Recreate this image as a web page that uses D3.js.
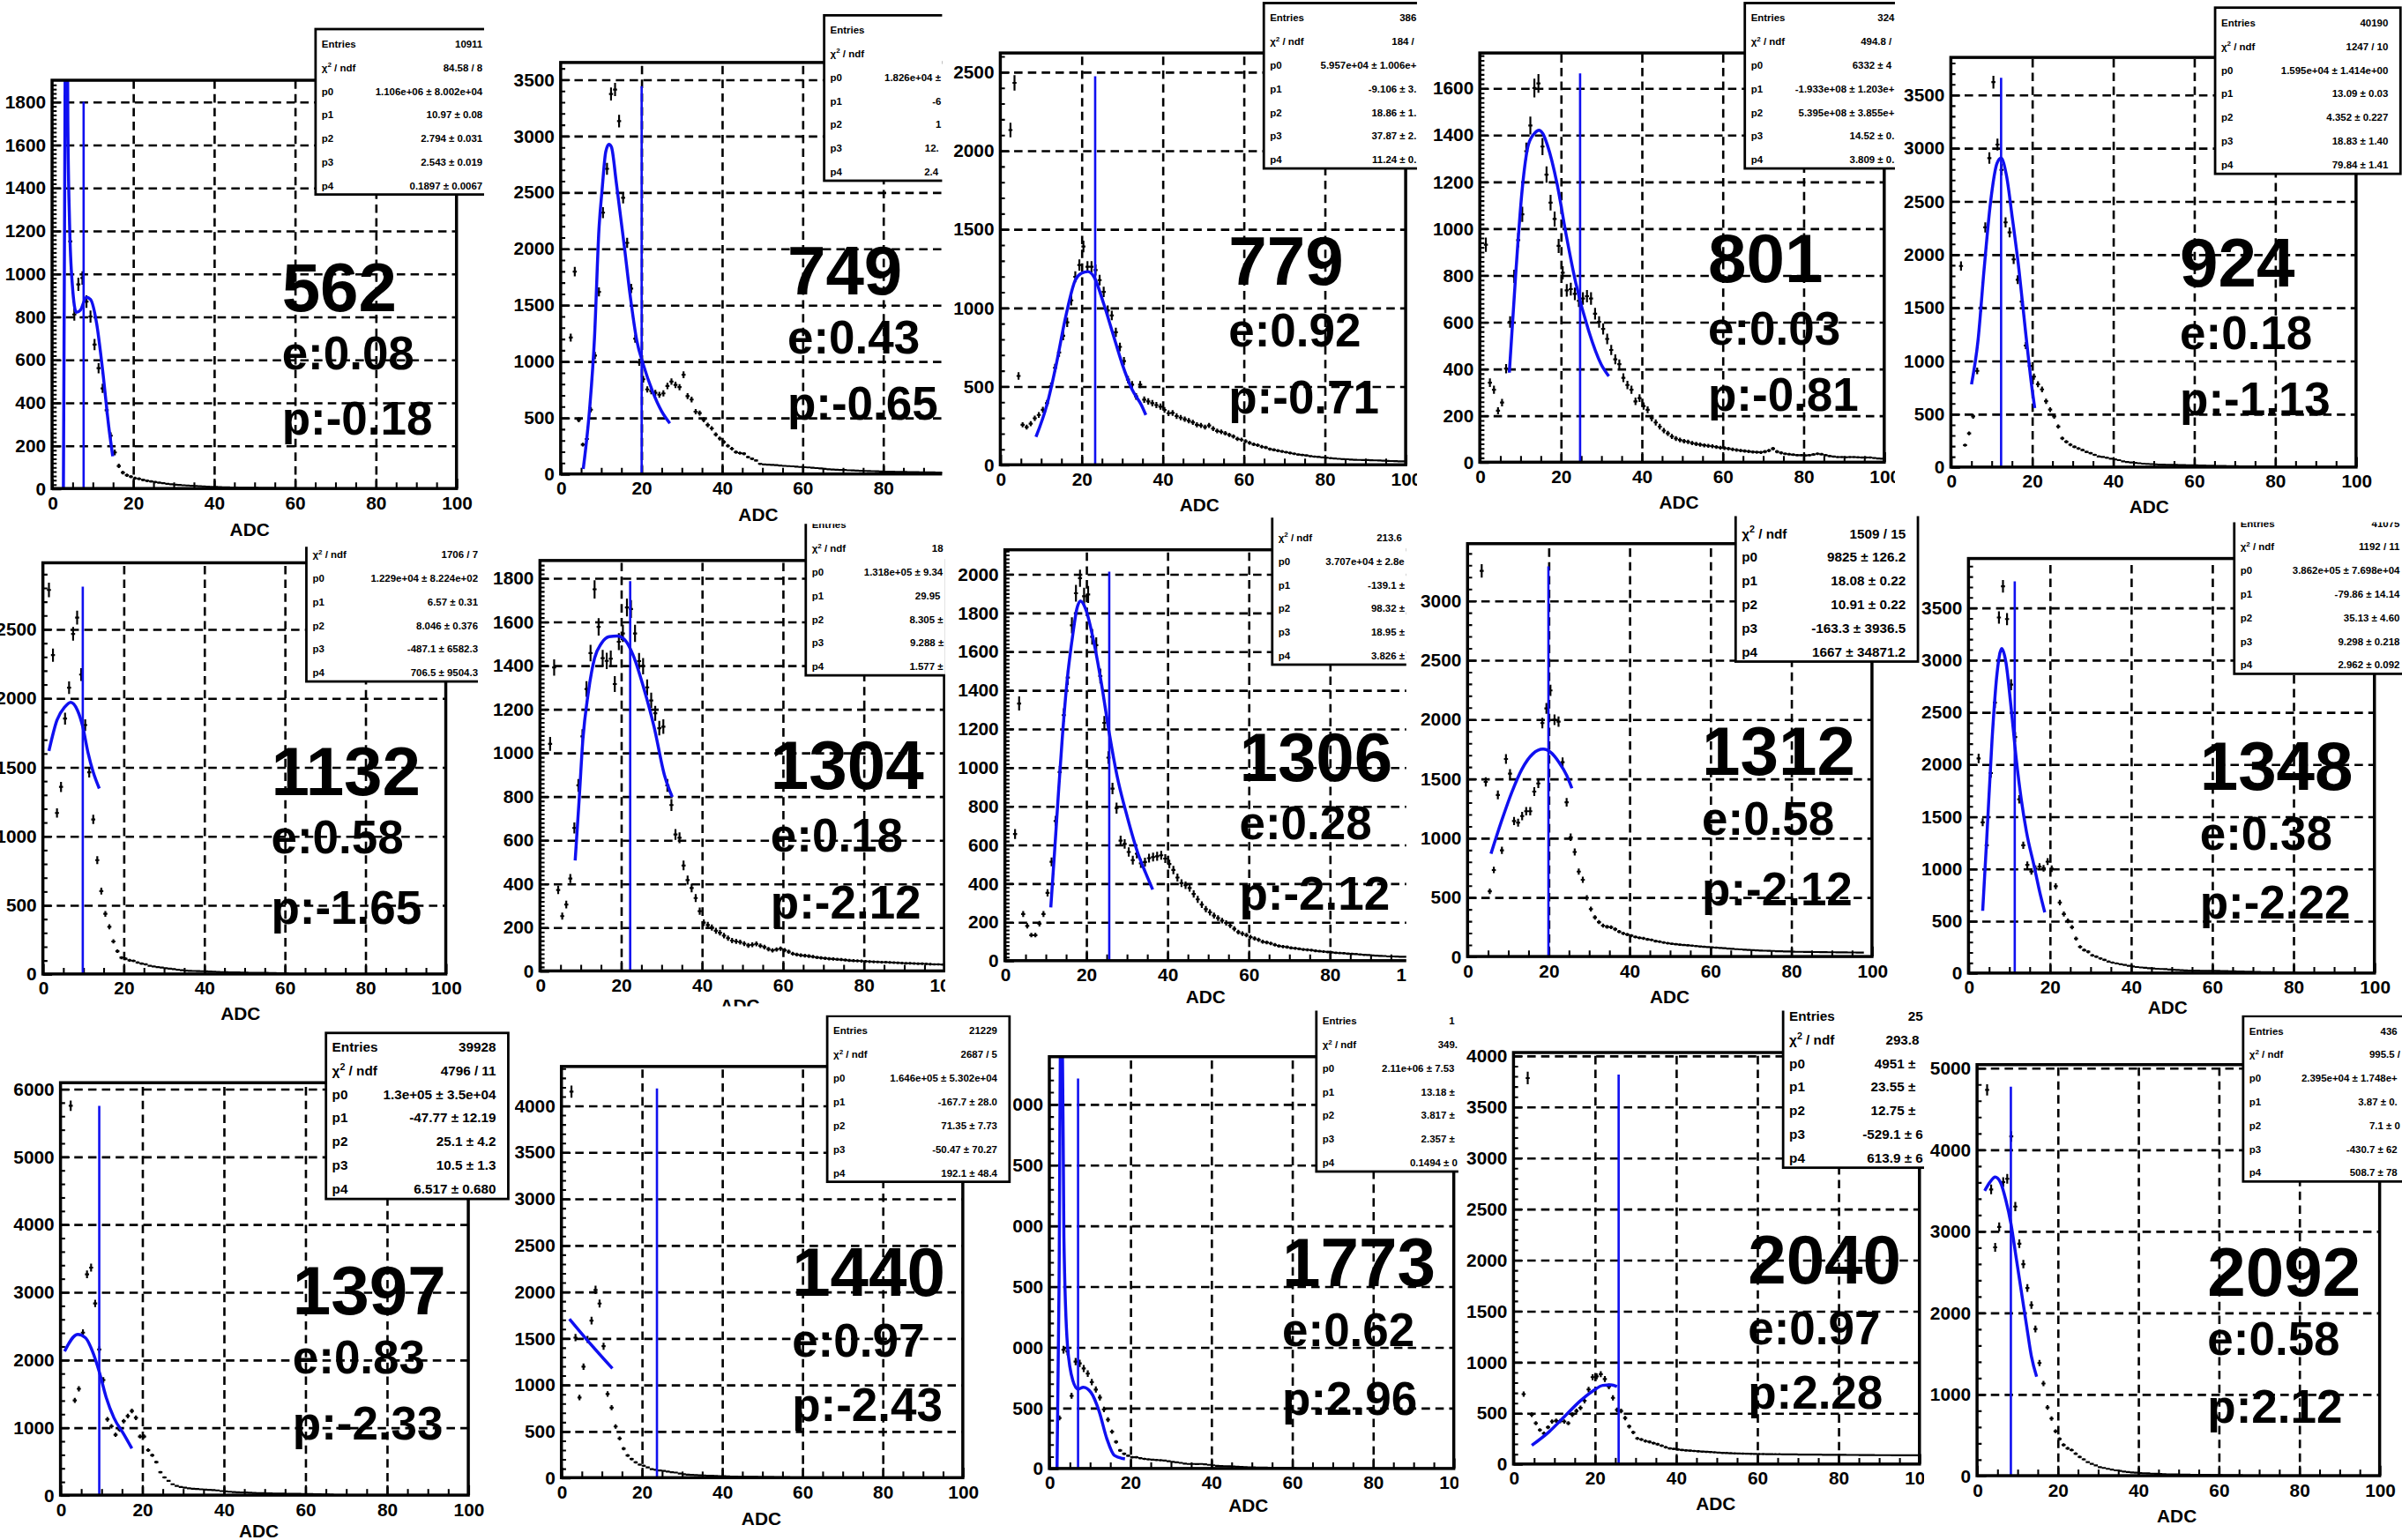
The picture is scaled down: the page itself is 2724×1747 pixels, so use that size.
<!DOCTYPE html>
<html>
<head>
<meta charset="utf-8">
<script src="https://cdn.jsdelivr.net/npm/d3@7"></script>
<style>
  html, body { margin: 0; padding: 0; background: #fff; }
  svg { display: block; }
  text { font-family: "Liberation Sans", Arial, Helvetica, sans-serif; font-weight: bold; }
</style>
</head>
<body>
<div id="chart"></div>
<script>
// channel labels and fit summary numbers
const channels = [562, 749, 779, 801, 924, 1132, 1304, 1306, 1312, 1348, 1397, 1440, 1773, 2040, 2092];
const eValues = ["0.08", "0.43", "0.92", "0.03", "0.18", "0.58", "0.18", "0.28", "0.58", "0.38", "0.83", "0.97", "0.62", "0.97", "0.58"];
const pValues = ["-0.18", "-0.65", "-0.71", "-0.81", "-1.13", "-1.65", "-2.12", "-2.12", "-2.12", "-2.22", "-2.33", "-2.43", "2.96", "2.28", "2.12"];

// y range and major step of each histogram
const yMax = [1900, 3650, 2620, 1750, 3850, 2980, 1880, 2125, 3480, 3970, 6090, 4420, 3390, 4030, 5040];
const yStep = [200, 500, 500, 200, 500, 500, 200, 200, 500, 500, 1000, 500, 500, 500, 1000];
const xTicks = [0, 20, 40, 60, 80, 100];
const xTitle = "ADC";

// bin contents, 1 ADC per bin starting at 0 (null = empty bin)
const counts562 = [null,null,null,1780,1150,810,950,980,870,800,670,560,466,364,246,168,105,74,62,55,48,45,40,36,33,30,27,25,22,20,18,17,15,14,13,12,11,10,9,8,8,7,6,6,5,5,4,4,3,3,3,2,2,2,2,1,1,1,1,1];
const counts749 = [null,null,1210,1795,480,260,310,570,1050,1615,2318,2707,3370,3410,3130,2450,2050,1645,1200,990,840,750,735,720,703,715,780,820,790,770,880,690,660,553,540,480,434,404,350,314,284,250,224,194,185,180,150,135,120,90,85,82,80,78,75,72,70,68,65,62,60,58,55,52,50,45,42,40,38,36,35,33,32,30,28,27,26,25,24,22,21,20,20,19,18,18,17,16,16,15,15,14,14,13,13,12,12,11,11,10];
const counts779 = [null,null,2130,2430,565,255,240,262,296,317,350,392,500,617,714,821,907,1046,1196,1271,1389,1260,1260,1239,1175,1100,982,950,843,750,660,542,510,435,510,414,403,392,380,370,349,328,330,310,300,290,280,270,255,250,240,250,230,215,210,200,190,180,165,160,150,140,130,125,115,110,100,95,90,85,80,75,70,65,62,60,55,52,50,47,45,42,40,38,36,35,33,32,31,30,30,29,28,27,26,25,24,23,22,22];
const counts801 = [null,930,340,310,220,255,400,600,795,950,1060,1330,1440,1600,1620,1350,1230,1110,1040,925,810,735,740,720,690,700,710,700,635,600,570,527,480,440,419,361,330,310,260,274,240,224,188,170,152,135,123,110,101,95,90,87,82,78,75,72,70,68,65,62,60,58,55,52,50,48,46,44,43,42,45,50,58,45,40,36,34,32,30,30,29,30,33,36,34,30,26,24,22,22,21,22,22,21,20,20,20,18,16,15];
const counts924 = [null,null,1890,206,317,476,904,1500,2253,2904,3618,3031,2793,2300,2206,1952,1761,1555,1142,950,850,778,730,619,540,476,381,270,238,210,190,175,160,143,130,115,100,95,88,79,72,65,54,48,44,40,36,32,30,28,26,24,23,22,21,20,19,18,17,16,16,15,14,13,12,11,10,10,9,8,8,7,7,6,6,5,5,4,4,3];
const counts1132 = [null,2783,2311,1167,1356,1851,2075,2465,2583,2170,1804,1462,1120,825,601,436,342,236,165,118,110,99,95,83,75,70,59,55,50,47,42,38,35,30,27,24,23,22,21,20,19,18,17,15,14,13,12,12,11,10,10,9,9,9,8,8,7,7,6,6,5];
const counts1304 = [null,null,1040,1390,371,251,304,423,655,850,1074,1291,1456,1748,1576,1433,1420,1430,1314,1508,1546,1665,1658,1546,1419,1396,1299,1239,1180,1112,1119,850,760,625,610,483,416,380,334,274,221,210,199,184,175,162,150,139,135,132,125,117,120,124,115,109,100,94,98,102,95,88,79,75,72,70,68,65,62,60,58,56,55,53,52,50,48,47,46,45,44,43,42,41,40,40,39,38,37,36,35,35,34,33,33,32,31,30,30,29];
const counts1306 = [null,null,655,1330,241,180,132,132,191,241,351,511,722,975,1270,1464,1734,1900,1978,1885,1894,1675,1632,1472,1230,1050,890,789,621,604,562,520,553,503,510,530,536,540,545,528,500,469,430,401,390,376,345,317,290,266,250,233,220,207,195,182,165,148,140,132,122,115,108,98,94,89,82,76,73,70,66,64,61,58,56,54,51,49,47,45,43,41,39,38,36,35,34,32,30,29,27,26,25,24,22,22,21,20,20,19];
const counts1312 = [null,null,null,3250,1472,550,729,1362,895,1665,1541,1142,1128,1184,1225,1225,1390,1459,1968,2092,2243,1996,1980,1638,1300,1005,881,716,647,495,400,330,290,261,250,247,230,210,195,185,176,165,158,153,145,140,130,125,118,112,108,104,100,97,95,92,88,85,82,80,77,75,72,70,67,65,62,60,58,56,54,52,50,49,48,47,45,44,43,42,41,40,40,39,39,38,38,37,37,36,36,35,35,35,34,34,33,33];
const counts1348 = [null,null,2056,1444,1224,1915,2589,3405,3704,3390,2762,2260,1664,1224,1036,973,1000,1020,1004,1067,1000,832,675,565,500,439,330,251,220,204,170,157,140,126,110,100,92,85,78,70,63,58,54,50,47,44,41,39,38,34,31,29,27,25,24,23,23,22,22,22,22,21,20,19,18,17,16,15,13,12,11,10,9,9,8,8,7,7,6,6,5];
const counts1397 = [null,null,5750,1400,1570,2400,3260,3360,2830,2150,1700,1120,1017,891,966,1092,1168,1243,1142,866,866,664,589,488,337,262,211,161,136,120,111,100,95,90,86,82,78,75,70,60,55,50,45,42,40,38,35,33,30,28,26,25,24,23,22,21,20,20,19,18,17,15,14,12,10,9,8];
const counts1440 = [null,null,4150,1505,862,1193,1486,1688,2018,1872,1413,899,752,550,422,312,238,200,165,140,128,110,92,85,78,73,65,58,55,45,37,33,30,27,26,24,22,20,18,16,15,14,12,11,10,9,9,8,8,7,7,6,6,5,5,4,4,3,3,3,2,2];
const counts1773 = [null,null,416,978,963,598,880,865,823,781,711,650,584,486,402,303,219,149,121,105,93,93,85,79,75,72,70,68,65,60,55,51,46,40,37,37,36,37,34,30,26,22,20,19,18,17,15,13,12,10,9,8,7,7,6,6,5,5,4,4,3];
const counts2040 = [null,null,685,3780,483,400,333,300,360,417,425,420,417,400,483,520,550,620,730,851,858,880,833,760,648,531,520,450,368,310,251,240,225,217,205,194,180,165,153,148,142,138,134,131,128,125,122,120,118,115,112,109,108,106,104,103,102,101,100,99,98,98,97,97,96,96,95,95,94,94,93,93,93,92,92,92,91,91,91,90,90,90,89,89,89,88,88,88,88,87,87,87,87,86,86,86,86,86,86,86];
const counts2092 = [null,null,4730,3510,2800,3050,3600,3640,4160,3300,2845,2594,2301,2092,1799,1381,1130,837,700,544,450,377,335,314,270,230,200,167,145,126,105,95,84,75,65,58,50,45,40,36,33,30,28,25,23,21,19,17,16,15,14,13,12,11,10,10,9,9,8,8,7,6,6,5,5,4];

// fit curves: [ADC, counts]
const fit562 = [[2.8,0],[3.1,1300],[3.4,2600],[3.6,2700],[3.9,1700],[4.3,1250],[5,950],[6,820],[7,830],[8.5,890],[9.5,880],[11,770],[12.5,550],[14,290],[15,150]];
const fit749 = [[5.6,45],[7.2,583],[8.4,1211],[9.5,2168],[10.3,2528],[11.2,2860],[12,2923],[12.6,2900],[13.8,2588],[15.8,2019],[17.3,1570],[18.9,1182],[20.5,972],[22.8,733],[25.1,553],[27.1,449]];
const fit779 = [[8.8,178],[11.5,382],[13.8,639],[16.1,939],[18.5,1175],[20,1218],[21.6,1229],[23.1,1196],[25.5,1025],[27.8,832],[30.1,639],[32.5,480],[34.8,380],[35.9,317]];
const fit801 = [[7.3,383],[8.9,809],[10.5,1170],[12,1357],[13.6,1408],[14.6,1420],[15.6,1405],[16.7,1357],[19.1,1191],[21.4,968],[23.75,765],[26.9,563],[30,419],[31.9,368]];
const fit924 = [[5.1,778],[6.7,1190],[8.2,1857],[9.8,2491],[11.4,2856],[12.4,2904],[13.7,2745],[15.2,2333],[16.8,1857],[18.4,1285],[19.9,778],[20.7,555]];
const fit1132 = [[1.5,1616],[3.5,1840],[5.4,1934],[6.9,1969],[8.6,1910],[9.9,1792],[11.2,1604],[12.5,1462],[14,1344]];
const fit1304 = [[8.7,506],[9.7,790],[10.6,1059],[11.9,1269],[13.5,1433],[15.2,1501],[17.1,1531],[19.1,1534],[21,1516],[23,1448],[25.6,1299],[28.2,1119],[30.8,895],[32.7,797]];
const fit1306 = [[11.3,275],[12.2,553],[13.1,840],[14.1,1143],[15.4,1464],[16.7,1683],[17.7,1818],[18.6,1860],[19.9,1818],[21.9,1649],[23.8,1430],[25.7,1177],[27.6,958],[30.2,739],[32.8,553],[34.7,452],[36.4,368]];
const fit1312 = [[5.8,867],[8.4,1142],[11,1390],[13.5,1583],[16.1,1707],[18.7,1748],[20.6,1720],[22.6,1638],[24.5,1528],[25.8,1418]];
const fit1348 = [[3.5,596],[4.5,1287],[5.8,2229],[7,2856],[8.2,3107],[9.2,2982],[10.5,2542],[11.8,2040],[13,1664],[14.3,1350],[16.2,1020],[17.5,785],[18.8,581]];
const fit1397 = [[1,2124],[4.2,2375],[6.1,2325],[8,2099],[9.5,1822],[11.2,1444],[13.1,1142],[15.6,891],[17.5,689]];
const fit1440 = [[2,1706],[7,1450],[12.7,1174]];
const fit1773 = [[1.9,0],[2.4,1500],[2.8,3600],[3.2,3600],[3.6,1900],[4.5,1006],[5.8,725],[7.1,654],[8.4,669],[10.3,626],[12.3,472],[14.2,247],[16.1,107],[18.7,79]];
const fit2040 = [[4.5,183],[8.8,317],[12.6,467],[16.4,617],[19.7,720],[22,770],[24,775],[25.5,760]];
const fit2092 = [[1.9,3494],[3.2,3598],[4.5,3661],[5.8,3598],[7.1,3389],[8.4,3096],[9.7,2678],[11,2259],[12.3,1841],[13.5,1464],[14.8,1213]];

// vertical marker line: [ADC, top in counts]
const markLines = [[7.8,1800],[20.1,3440],[23.4,2472],[24.8,1663],[12.4,3659],[9.9,2807],[22.3,1785],[25.7,2012],[20,3289],[11.4,3751],[9.5,5747],[23.8,4183],[7.1,3211],[25.9,3814],[8.4,4770]];

// stats box rows
const stats562 = [["Entries","10911"],["chi","84.58 / 8"],["p0","1.106e+06 ± 8.002e+04"],["p1","10.97 ± 0.08"],["p2","2.794 ± 0.031"],["p3","2.543 ± 0.019"],["p4","0.1897 ± 0.0067"]];
const stats749 = [["Entries","53841"],["chi","178.4 / 9"],["p0","1.826e+04 ± 1.2e+03"],["p1","-63.2 ± 4.1"],["p2","15.7 ± 0.3"],["p3","12.91 ± 0.11"],["p4","2.487 ± 0.04"]];
const stats779 = [["Entries","38623"],["chi","184 / 11"],["p0","5.957e+04 ± 1.006e+03"],["p1","-9.106 ± 3.12"],["p2","18.86 ± 1.21"],["p3","37.87 ± 2.14"],["p4","11.24 ± 0.83"]];
const stats801 = [["Entries","32417"],["chi","494.8 / 12"],["p0","6332 ± 48.2"],["p1","-1.933e+08 ± 1.203e+08"],["p2","5.395e+08 ± 3.855e+08"],["p3","14.52 ± 0.31"],["p4","3.809 ± 0.21"]];
const stats924 = [["Entries","40190"],["chi","1247 / 10"],["p0","1.595e+04 ± 1.414e+00"],["p1","13.09 ± 0.03"],["p2","4.352 ± 0.227"],["p3","18.83 ± 1.40"],["p4","79.84 ± 1.41"]];
const stats1132 = [["Entries","35216"],["chi","1706 / 7"],["p0","1.229e+04 ± 8.224e+02"],["p1","6.57 ± 0.31"],["p2","8.046 ± 0.376"],["p3","-487.1 ± 6582.3"],["p4","706.5 ± 9504.3"]];
const stats1304 = [["Entries","61934"],["chi","185.3 / 9"],["p0","1.318e+05 ± 9.344e+03"],["p1","29.95 ± 0.41"],["p2","8.305 ± 0.214"],["p3","9.288 ± 0.115"],["p4","1.577 ± 0.022"]];
const stats1306 = [["Entries","52870"],["chi","213.6 / 13"],["p0","3.707e+04 ± 2.8e+03"],["p1","-139.1 ± 9.2"],["p2","98.32 ± 4.1"],["p3","18.95 ± 0.2"],["p4","3.826 ± 0.1"]];
const stats1312 = [["Entries","40852"],["chi","1509 / 15"],["p0","9825 ± 126.2"],["p1","18.08 ± 0.22"],["p2","10.91 ± 0.22"],["p3","-163.3 ± 3936.5"],["p4","1667 ± 34871.2"]];
const stats1348 = [["Entries","41075"],["chi","1192 / 11"],["p0","3.862e+05 ± 7.698e+04"],["p1","-79.86 ± 14.14"],["p2","35.13 ± 4.60"],["p3","9.298 ± 0.218"],["p4","2.962 ± 0.092"]];
const stats1397 = [["Entries","39928"],["chi","4796 / 11"],["p0","1.3e+05 ± 3.5e+04"],["p1","-47.77 ± 12.19"],["p2","25.1 ± 4.2"],["p3","10.5 ± 1.3"],["p4","6.517 ± 0.680"]];
const stats1440 = [["Entries","21229"],["chi","2687 / 5"],["p0","1.646e+05 ± 5.302e+04"],["p1","-167.7 ± 28.0"],["p2","71.35 ± 7.73"],["p3","-50.47 ± 70.27"],["p4","192.1 ± 48.4"]];
const stats1773 = [["Entries","16482"],["chi","349.1 / 9"],["p0","2.11e+06 ± 7.53e+04"],["p1","13.18 ± 0.31"],["p2","3.817 ± 0.05"],["p3","2.357 ± 0.02"],["p4","0.1494 ± 0.003"]];
const stats2040 = [["Entries","25716"],["chi","293.8 / 17"],["p0","4951 ± 62.1"],["p1","23.55 ± 0.25"],["p2","12.75 ± 0.31"],["p3","-529.1 ± 6512"],["p4","613.9 ± 6934"]];
const stats2092 = [["Entries","43605"],["chi","995.5 / 9"],["p0","2.395e+04 ± 1.748e+03"],["p1","3.87 ± 0.42"],["p2","7.1 ± 0.3"],["p3","-430.7 ± 6230"],["p4","508.7 ± 7831"]];

const countsList = [counts562, counts749, counts779, counts801, counts924, counts1132, counts1304, counts1306, counts1312, counts1348, counts1397, counts1440, counts1773, counts2040, counts2092];
const fitList = [fit562, fit749, fit779, fit801, fit924, fit1132, fit1304, fit1306, fit1312, fit1348, fit1397, fit1440, fit1773, fit2040, fit2092];
const statsList = [stats562, stats749, stats779, stats801, stats924, stats1132, stats1304, stats1306, stats1312, stats1348, stats1397, stats1440, stats1773, stats2040, stats2092];

// ---- layout (display units, viewBox 1568 wide) ----
// frame: [x of ADC 0, x of ADC 100, top, bottom]
const frames = [
  [34, 298, 52.4, 319], [366, 629, 40.8, 309.5], [653, 917.6, 34.6, 303.5], [966, 1230, 34.6, 301.8], [1273.5, 1538, 37.5, 305],
  [28, 291, 367.5, 636], [352.5, 616.5, 366, 634], [656, 921, 359, 627.3], [958, 1222, 355, 624.6], [1285, 1550, 364.7, 635.4],
  [39.5, 305.7, 707, 976.3], [366.5, 628.5, 696.4, 964.9], [685, 949, 690, 958.9], [988, 1253, 687.3, 956], [1290.6, 1553.4, 695.2, 963.6]
];
// visible piece of each pasted plot: [x0, y0, x1, y1]
const clips = [
  [0, 0, 316, 356], [316, 0, 615, 343], [615, 0, 925, 340], [925, 0, 1237, 338], [1237, 0, 1568, 341],
  [0, 357, 312, 668], [312, 342, 617, 657], [617, 338, 918, 660], [918, 337, 1254, 660], [1254, 341, 1568, 667],
  [0, 670, 336, 1006], [336, 663, 661, 1006], [661, 660, 952, 1006], [952, 660, 1256, 1006], [1256, 663, 1568, 1006]
];
// stats box: [left, top, width, height, font size]
const boxes = [
  [206, 19, 117, 108, 6.6], [538, 10, 110, 108, 6.6], [825, 2, 115, 108, 6.6], [1139, 2, 113, 108, 6.6], [1446, 5, 121, 108.5, 6.6],
  [200, 337, 120, 108, 6.6], [526, 333, 116, 108, 6.6], [830.5, 326, 105.5, 108, 6.6], [1133, 324, 119, 108, 8.8], [1458.5, 332, 116, 108, 6.6],
  [212.8, 674.5, 119, 108.4, 8.8], [540, 663.4, 119, 108.3, 6.6], [859.3, 657, 113, 108, 6.6], [1164, 654.5, 114, 108, 8.8], [1464.3, 663.5, 116, 108, 6.6]
];
// big label: [left x, baseline of number, of e:, of p:]
const labelPos = [
  [184, 203, 241, 284], [514, 192, 231, 274], [802, 186, 226, 270], [1115, 184, 225, 268], [1423, 187, 228, 271],
  [177, 519, 557, 603], [503, 515, 556, 600], [809, 510, 548, 594], [1111, 506, 545, 591], [1436, 516, 555, 600],
  [191, 858, 897, 940], [517, 846, 886, 928], [837, 840, 879, 924], [1141, 838, 878, 920], [1441, 846, 885, 929]
];
// x title position: [center x, baseline]
const titlePos = [
  [163, 350], [495, 340], [783, 334], [1096, 332], [1403, 335],
  [157, 666], [483, 661], [787, 655], [1090, 655], [1415, 662],
  [169, 1004], [497, 996], [815, 987], [1120, 986], [1421, 994]
];

const BLUE = "#1010f0";

const svg = d3.select("#chart").append("svg")
    .attr("width", 2724)
    .attr("height", 1747)
    .attr("viewBox", "0 0 1568 1005.6")
    .attr("preserveAspectRatio", "none");

svg.append("rect").attr("width", 1568).attr("height", 1006).attr("fill", "#fff");

const defs = svg.append("defs");

// strip an axis down to its tick lines
const linesOnly = (a, width, dash) => {
    a.select(".domain").remove();
    a.selectAll("text").remove();
    a.selectAll("line").attr("stroke", "#000").attr("stroke-width", width);
    if (dash) a.selectAll("line").attr("stroke-dasharray", dash);
};

channels.forEach((ch, i) => {
    const [cx0, cy0, cx1, cy1] = clips[i];
    const [fx0, fx1, fyT, fyB] = frames[i];
    const w = fx1 - fx0, h = fyB - fyT;

    defs.append("clipPath").attr("id", "pc" + i).append("rect")
        .attr("x", cx0).attr("y", cy0).attr("width", cx1 - cx0).attr("height", cy1 - cy0);
    defs.append("clipPath").attr("id", "fc" + i).append("rect")
        .attr("x", fx0).attr("y", fyT).attr("width", w).attr("height", h);

    const g = svg.append("g").attr("clip-path", `url(#pc${i})`);

    const x = d3.scaleLinear().domain([0, 100]).range([fx0, fx1]);
    const y = d3.scaleLinear().domain([0, yMax[i]]).range([fyB, fyT]);

    const sub = yStep[i] === 200 ? 10 : 5;
    const yMajor = d3.range(0, yMax[i] + 1, yStep[i]);
    const yMinor = d3.range(0, yMax[i], yStep[i] / sub).filter(v => v % yStep[i] !== 0);
    const xMinor = d3.range(0, 100, 5).filter(v => v % 20 !== 0);

    // dashed grid
    linesOnly(g.append("g").attr("transform", `translate(${fx0},0)`)
        .call(d3.axisLeft(y).tickValues(yMajor.filter(v => v > 0)).tickSize(-w)), 1.5, "5.5,3.5");
    linesOnly(g.append("g").attr("transform", `translate(0,${fyB})`)
        .call(d3.axisBottom(x).tickValues([20, 40, 60, 80]).tickSize(-h)), 1.5, "5.5,3.5");

    // inward ticks
    linesOnly(g.append("g").attr("transform", `translate(${fx0},0)`)
        .call(d3.axisLeft(y).tickValues(yMajor).tickSize(-6)), 1.3);
    linesOnly(g.append("g").attr("transform", `translate(${fx0},0)`)
        .call(d3.axisLeft(y).tickValues(yMinor).tickSize(-3)), 1.2);
    linesOnly(g.append("g").attr("transform", `translate(0,${fyB})`)
        .call(d3.axisBottom(x).tickValues(xTicks).tickSize(-6.5)), 1.3);
    linesOnly(g.append("g").attr("transform", `translate(0,${fyB})`)
        .call(d3.axisBottom(x).tickValues(xMinor).tickSize(-4)), 1.2);

    // tick labels
    const ly = g.append("g").attr("transform", `translate(${fx0},0)`)
        .call(d3.axisLeft(y).tickValues(yMajor).tickSize(0).tickPadding(4).tickFormat(d3.format("d")));
    const lx = g.append("g").attr("transform", `translate(0,${fyB})`)
        .call(d3.axisBottom(x).tickValues(xTicks).tickSize(0).tickPadding(5).tickFormat(d3.format("d")));
    [ly, lx].forEach(a => {
        a.select(".domain").remove();
        a.selectAll("line").remove();
        a.attr("font-size", 12).attr("font-family", null);
        a.selectAll("text").attr("fill", "#000");
    });

    // axis title
    g.append("text")
        .attr("x", titlePos[i][0]).attr("y", titlePos[i][1])
        .attr("text-anchor", "middle").attr("font-size", 12)
        .text(xTitle);

    // histogram with error crosses
    const inner = g.append("g").attr("clip-path", `url(#fc${i})`);
    let d = "";
    countsList[i].forEach((v, b) => {
        if (v == null) return;
        const err = Math.sqrt(v);
        const xc = x(b + 0.5);
        d += `M${x(b)},${y(v)}H${x(b + 1)}M${xc},${y(v + err)}V${y(Math.max(0, v - err))}`;
    });
    inner.append("path").attr("d", d).attr("fill", "none").attr("stroke", "#000").attr("stroke-width", 1.25);

    // fit curve
    const line = d3.line().x(p => x(p[0])).y(p => y(p[1])).curve(d3.curveMonotoneX);
    inner.append("path").datum(fitList[i]).attr("d", line)
        .attr("fill", "none").attr("stroke", BLUE).attr("stroke-width", 2);

    // vertical marker
    const [mx, mTop] = markLines[i];
    inner.append("line")
        .attr("x1", x(mx)).attr("x2", x(mx)).attr("y1", y(0)).attr("y2", y(mTop))
        .attr("stroke", BLUE).attr("stroke-width", 1.5);

    // frame
    g.append("rect").attr("x", fx0).attr("y", fyT).attr("width", w).attr("height", h)
        .attr("fill", "none").attr("stroke", "#000").attr("stroke-width", 2);

    // stats box (rows hidden by the cut-off are skipped, cut values keep only their visible part)
    const [bl, bt, bw, bh, fs] = boxes[i];
    const sb = g.append("g");
    sb.append("rect").attr("x", bl).attr("y", bt).attr("width", bw).attr("height", bh)
        .attr("fill", "#fff").attr("stroke", "#000").attr("stroke-width", 1.6);
    statsList[i].forEach((row, k) => {
        const yb = bt + (k + 0.78) * bh / 7;
        if (yb < cy0 + 1) return;
        const lab = sb.append("text").attr("x", bl + 4).attr("y", yb).attr("font-size", fs);
        if (row[0] === "chi") {
            lab.append("tspan").text("χ");
            lab.append("tspan").attr("dy", -fs * 0.4).attr("font-size", fs * 0.7).text("2");
            lab.append("tspan").attr("dy", fs * 0.4).text(" / ndf");
        } else {
            lab.text(row[0]);
        }
        const right = bl + bw - 8;
        const vt = sb.append("text").attr("x", right).attr("y", yb).attr("font-size", fs)
            .attr("text-anchor", "end").text(row[1]);
        if (right > cx1) {
            const node = vt.node();
            const start = right - node.getComputedTextLength();
            let n = row[1].length;
            while (n > 0 && start + node.getSubStringLength(0, n) > cx1) n--;
            vt.attr("text-anchor", "start").attr("x", start).text(row[1].slice(0, n));
        }
    });

    // channel number and its values
    const [tx, yNum, yE, yP] = labelPos[i];
    g.append("text").attr("x", tx).attr("y", yNum).attr("font-size", 45).text(ch);
    g.append("text").attr("x", tx).attr("y", yE).attr("font-size", 30.5).text("e:" + eValues[i]);
    g.append("text").attr("x", tx).attr("y", yP).attr("font-size", 30.5).text("p:" + pValues[i]);
});
</script>
</body>
</html>
